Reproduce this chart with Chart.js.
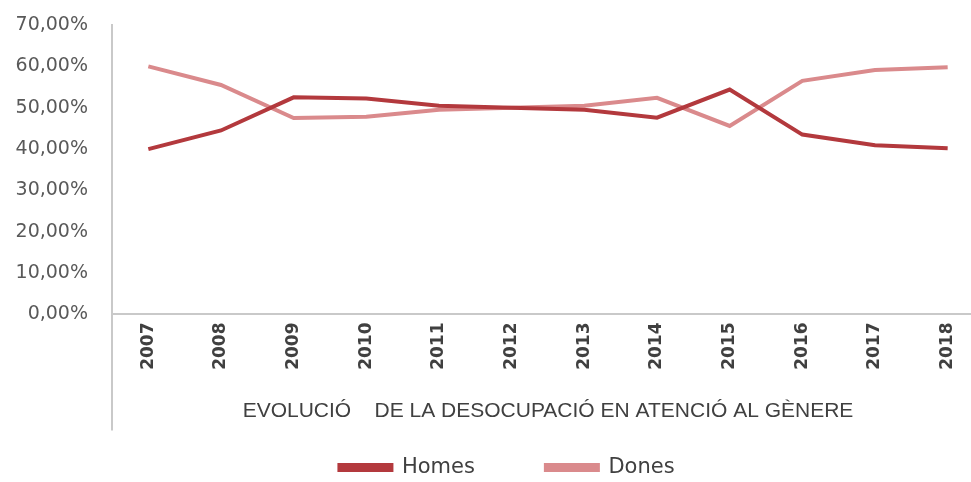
<!DOCTYPE html>
<html>
<head>
<meta charset="utf-8">
<script src="https://cdn.jsdelivr.net/npm/chart.js@4"></script>
<style>
  html, body { margin: 0; padding: 0; background: #fff; overflow: hidden; }
</style>
</head>
<body>
<canvas id="grafic" width="1014" height="488"></canvas>
<script>
// dades llegides del gràfic (% de desocupació per gènere)
const anys = ["2007", "2008", "2009", "2010", "2011", "2012", "2013", "2014", "2015", "2016", "2017", "2018"];
const homes = [40.0, 44.5, 52.5, 52.2, 50.5, 50.0, 49.5, 47.6, 54.4, 43.5, 40.9, 40.2];
const dones = [60.0, 55.5, 47.5, 47.8, 49.5, 50.0, 50.5, 52.4, 45.6, 56.5, 59.1, 59.8];
const yMax = 70;
const yPas = 10;
const titolX = "EVOLUCIÓ    DE LA DESOCUPACIÓ EN ATENCIÓ AL GÈNERE";

const colorEix = "#c9c9c9";
const colorText = "#404040";

// prolonga l'eix vertical per sota de les etiquetes, com a l'Excel
const liniaEix = {
  id: "liniaEix",
  afterDraw(chart) {
    const { ctx, chartArea } = chart;
    ctx.save();
    ctx.strokeStyle = colorEix;
    ctx.lineWidth = 2;
    ctx.beginPath();
    ctx.moveTo(chartArea.left, chartArea.bottom);
    ctx.lineTo(chartArea.left, chartArea.bottom + 116);
    ctx.stroke();
    ctx.restore();
  },
};

new Chart(document.getElementById("grafic"), {
  type: "line",
  data: {
    labels: anys,
    datasets: [
      {
        label: "Homes",
        data: homes,
        borderColor: "#b3393d",
        backgroundColor: "#b3393d",
        borderWidth: 4,
        pointRadius: 0,
        tension: 0,
      },
      {
        label: "Dones",
        data: dones,
        borderColor: "#da8a8c",
        backgroundColor: "#da8a8c",
        borderWidth: 4,
        pointRadius: 0,
        tension: 0,
      },
    ],
  },
  options: {
    responsive: false,
    animation: false,
    layout: { padding: { top: 25, left: 0, right: 0, bottom: 0 } },
    scales: {
      x: {
        offset: true,
        grid: { display: false, drawTicks: false },
        border: { color: colorEix, width: 2 },
        afterFit(scale) {
          // l'original queda retallat per la dreta
          scale.paddingRight = 30;
        },
        ticks: {
          autoSkip: false,
          minRotation: 90,
          maxRotation: 90,
          padding: 8,
          color: colorText,
          font: { family: "DejaVu Sans", size: 17, weight: "bold" },
        },
        title: {
          display: true,
          text: titolX,
          color: colorText,
          font: { family: "Liberation Sans", size: 21 },
          padding: { top: 21, bottom: -38 },
        },
      },
      y: {
        min: 0,
        max: yMax,
        grid: { display: false, drawTicks: false },
        border: { color: colorEix, width: 2 },
        afterFit(scale) {
          scale.width = 112;
          scale.paddingTop = 0;
          scale.paddingBottom = 0;
        },
        ticks: {
          stepSize: yPas,
          padding: 24,
          color: "#595959",
          font: { family: "DejaVu Sans", size: 19 },
          callback: (v) => v.toFixed(2).replace(".", ",") + "%",
        },
      },
    },
    plugins: {
      legend: {
        position: "bottom",
        labels: {
          boxWidth: 52,
          boxHeight: 5,
          padding: 71,
          color: colorText,
          font: { family: "DejaVu Sans", size: 21 },
        },
      },
      tooltip: { enabled: false },
    },
  },
  plugins: [liniaEix],
});
</script>
</body>
</html>
